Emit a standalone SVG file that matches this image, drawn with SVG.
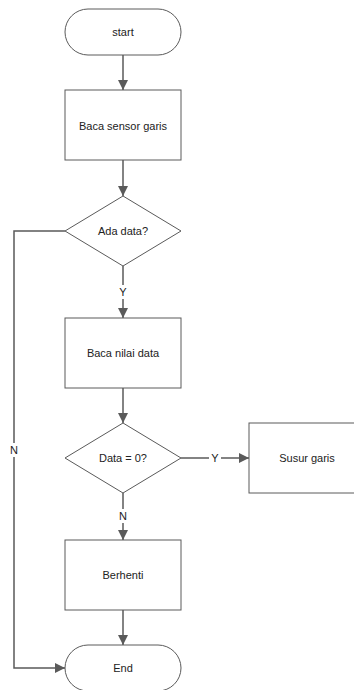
<svg xmlns="http://www.w3.org/2000/svg" width="354" height="690" viewBox="0 0 354 690">
<style>
.shape{fill:#fff;stroke:#5a5a5a;stroke-width:1}
.edge{fill:none;stroke:#5a5a5a;stroke-width:1.5}
text{font-family:"Liberation Sans",Arial,sans-serif;font-size:11px;fill:#222;text-anchor:middle;dominant-baseline:central}
.lbl{fill:#fff}
</style>
<defs>
<marker id="arr" viewBox="0 0 10 10" refX="10" refY="5" markerWidth="10" markerHeight="10" markerUnits="userSpaceOnUse" orient="auto">
<path d="M0,0 L10,5 L0,10 Z" fill="#5a5a5a"/>
</marker>
</defs>
<rect width="354" height="690" fill="#fff"/>
<g id="connectors">
<path class="edge" d="M123,55 V90" marker-end="url(#arr)"/>
<path class="edge" d="M123,160 V196" marker-end="url(#arr)"/>
<path class="edge" d="M123,266 V318" marker-end="url(#arr)"/>
<path class="edge" d="M123,388 V423" marker-end="url(#arr)"/>
<path class="edge" d="M181,458 H249" marker-end="url(#arr)"/>
<path class="edge" d="M123,493 V540" marker-end="url(#arr)"/>
<path class="edge" d="M123,610 V645" marker-end="url(#arr)"/>
<path class="edge" d="M65,231 H14 V668 H65" marker-end="url(#arr)"/>
<rect class="lbl" x="117" y="285" width="12" height="14"/>
<text x="123" y="292">Y</text>
<rect class="lbl" x="209" y="451" width="12" height="14"/>
<text x="215" y="458">Y</text>
<rect class="lbl" x="117" y="509" width="12" height="14"/>
<text x="123" y="516">N</text>
<rect class="lbl" x="8" y="443" width="12" height="14"/>
<text x="14" y="450">N</text>
</g>
<g id="start">
<rect class="shape" x="65" y="9" width="116" height="46" rx="23" ry="23"/>
<text x="123" y="32">start</text>
</g>
<g id="baca-sensor">
<rect class="shape" x="65" y="90" width="116" height="70"/>
<text x="123" y="126">Baca sensor garis</text>
</g>
<g id="ada-data">
<path class="shape" d="M123,196 L181,231 L123,266 L65,231 Z"/>
<text x="123" y="231">Ada data?</text>
</g>
<g id="baca-nilai">
<rect class="shape" x="65" y="318" width="116" height="70"/>
<text x="123" y="353">Baca nilai data</text>
</g>
<g id="data-nol">
<path class="shape" d="M123,423 L181,458 L123,493 L65,458 Z"/>
<text x="123" y="458">Data = 0?</text>
</g>
<g id="susur-garis">
<rect class="shape" x="249" y="423" width="116" height="70"/>
<text x="307" y="458">Susur garis</text>
</g>
<g id="berhenti">
<rect class="shape" x="65" y="540" width="116" height="70"/>
<text x="123" y="575">Berhenti</text>
</g>
<g id="end">
<rect class="shape" x="65" y="645" width="116" height="46" rx="23" ry="23"/>
<text x="123" y="668">End</text>
</g>
</svg>
